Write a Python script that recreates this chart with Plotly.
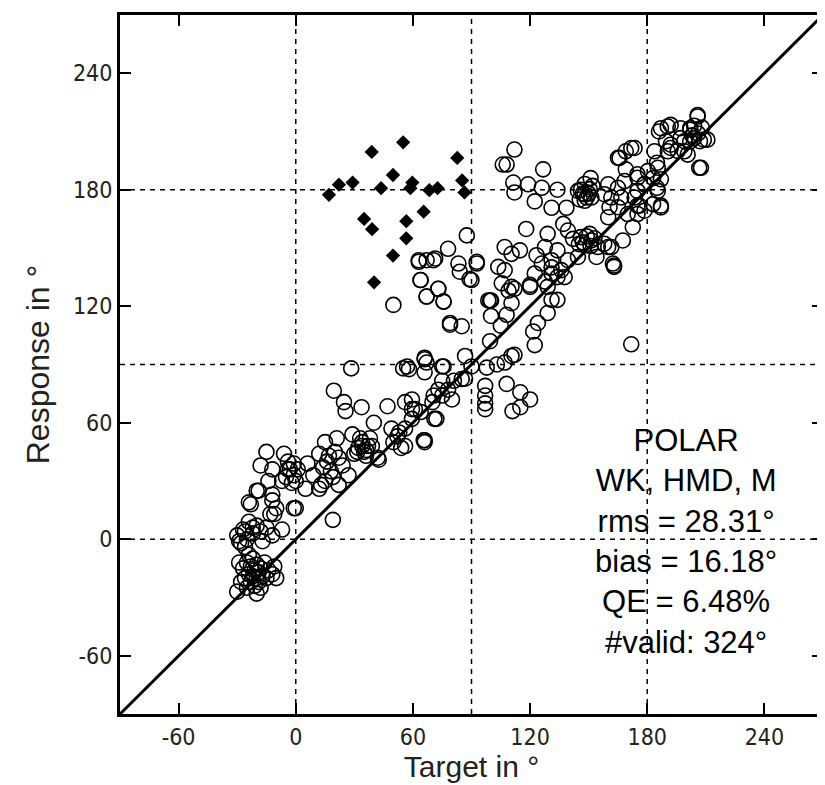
import plotly.graph_objects as go

# Open circles: localisation responses (target azimuth, response azimuth) in degrees
TARGET = [
    -30, -28, -27, -26, -25, -25, -24, -23, -23, -22, -22, -21, -21, -20, -20, -19, -19, -18, -18, -17,
    -16, -15, -14, -12, -10, -11, -24, -26, -29, -20,
    -30, -27, -25, -22, -20, -18, -15, -12, -28, -17, -24,
    -23, -7, 0, 19, -12, -11, -19,
    -15, -6, -18, -12, -4, -1, 6, 9, 12, 5, 0, -7, -14, -20, -24, -12, -10, -1, -13, -26, -29, -22,
    15, 21, 17, 24, 27, 19, 13, 29, 34, 31.5, 36, 39, 42, 40, 53, 56, 66, 49, 71, 59.5, 25.5,
    28.4, 55, 57, 66, 67, 75, 19.5, 24.7, 33.7, 47, 59.5, 64, 42.5, 70.6, 75, 78, 50, 64, 67, 73, 75.7, 79, 63, 70.6,
    32, 34, 35, 37, 30, 38, 33, 36,
    -5, -3, -1, -4, 1, -2,
    14, 16, 18, 20, 22, 12, 15, 22,
    50, 52, 54,
    86.7, 90, 85, 97.8, 107, 110.5, 112, 103, 97, 108, 97, 97, 97, 115, 120, 115, 75.7, 66, 66, 73, 80, 72, 65.5, 58, 59.5, 81, 86.7,
    100, 100, 99.5, 105, 108, 109, 110.5, 121.6, 122.4, 124, 129, 131, 134, 79, 85, 171.8, 92.7, 89, 112, 120, 127.6, 134, 137.7, 163, 131, 107,
    56, 61, 70, 75, 66, 56,
    112, 108, 126.7, 151, 111.4, 112, 119, 126, 134, 122.4, 131, 138.6, 144.5, 148, 150.5, 148, 145.4, 151.4, 158, 160.7,
    160, 165, 166.7, 165, 169, 173.5, 169, 175, 178.6, 175, 183, 185, 187, 176, 173.5, 185, 190.5, 187, 192, 197,
    202, 205.8, 206.6, 202, 199, 192,
    118, 114.8, 123.3, 129, 127.6, 137, 139.4, 142, 146, 148, 151.4, 154.7, 150.5, 158, 161.6, 163, 154, 144.5, 134, 131,
    126, 122.4, 131, 136, 139.4, 110.5, 107, 103.7, 105.5, 110.5, 120, 129, 98.6, 160, 167.5, 172.6, 175, 170, 178.6, 183,
    205.8, 190.5, 186, 197, 202, 204, 209, 210.8, 199, 195.6, 200.7, 207.5, 192, 189.6, 171.8, 165.8, 183.7, 185.4, 180.3, 175,
    178.6, 187, 185.4, 187, 175, 168.4, 165, 161.6, 160, 162.4,
    87.6, 78, 63, 67, 71.4, 83.3, 92.7, 84, 90, 63.8, 73, 67, 75.7, 99.5, 106,
    147, 149, 146, 150, 152, 148,
    147, 149, 151, 153, 145,
    203, 206, 208, 204, 207,
    111,
]
RESPONSE = [
    -27, -22, -15, -20, -25, -12, -18, -22, -14, -19, -10, -24, -16, -20, -13, -17, -22, -15, -25, -19,
    -12, -20, -16, -18, -20, -14, -8, -4, -12, -28,
    2, 5, 0, 3, 7, 4, 6, 2, -2, -1, 9,
    18, 5, 16, 10, 20, 13, 25,
    45, 44, 38, 36, 36, 39, 39, 33, 26, 26, 30, 30, 30, 25, 19, 23, 16, 16, 13, 4, -1, 6,
    50, 52, 43, 38, 33, 32, 28, 54, 48, 45, 43, 48, 42, 60, 55, 48, 51, 57, 62, 62, 66,
    88, 88, 89, 93.5, 91, 89, 76.5, 70.6, 68, 68.5, 67, 65.5, 41, 74, 81.6, 77, 120.7, 133.5, 125, 129, 122.4, 111.4, 142.9, 143.7,
    47, 50, 45, 48, 44, 52, 52, 46,
    32, 36, 33, 40, 36, 29,
    37, 40, 35, 45, 42, 44, 30, 28,
    50, 53, 47,
    94.4, 89, 82.5, 88.4, 91, 94.4, 95, 90, 79, 80, 74, 70, 67, 75.7, 72, 68, 89, 92.7, 86, 77, 72, 62, 51, 87.6, 72, 81.6, 82.7,
    123, 115, 102, 110, 115.6, 128, 121.6, 107, 100, 111.4, 116.5, 123.3, 123.3, 110.5, 109.7, 100.4, 142, 134, 129, 131, 132.7, 135, 135, 141, 140, 138.6,
    70.6, 67, 70.6, 74, 50, 57,
    200.7, 193, 190.5, 186, 183.7, 178.6, 182.8, 181, 180, 174, 170.7, 170.7, 179.4, 177.7, 180.3, 174.3, 175, 176, 177.7, 171,
    165.8, 171, 176, 196.4, 199.8, 201.5, 190.5, 188, 183, 179.4, 186, 181, 171.8, 171.8, 176, 193.9, 199.8, 211.7, 213.4, 206.6,
    211.7, 218.5, 191.3, 204.9, 199.8, 203.2,
    159.8, 148.8, 146.3, 157.3, 150.5, 162.4, 159, 154.7, 155.6, 151.4, 153.9, 150.5, 157.3, 152.2, 150.5, 140.3, 145.4, 145.4, 148.8, 143.7,
    142, 136.9, 136.9, 138.6, 143.7, 147, 150.5, 140.3, 131.8, 130, 130, 130, 123, 182.8, 153.9, 160.7, 167.5, 167.5, 169.2, 172.6,
    217.7, 212.6, 210, 211.7, 210.9, 206.6, 205.8, 205.8, 205, 200, 198.1, 191.3, 201.5, 205, 201.5, 196.4, 199.8, 191.3, 189.6, 186.2,
    182.8, 185.4, 179.4, 170.9, 171.8, 184.5, 181, 176, 150.5, 142,
    156.5, 149.6, 143.7, 143.7, 144.6, 142, 142.9, 137.8, 133.5, 133.5, 129, 125, 122.4, 123, 193,
    178, 176, 180, 178, 182, 183,
    153, 156, 151, 155, 152,
    208, 209, 212, 213, 205,
    66,
]

# Filled diamonds: quadrant errors (QE)
TARGET_QE = [55, 38.9, 82.7, 49.8, 29.1, 22.1, 17, 43.7, 59.7, 58.7, 68.4, 72.6, 85.2, 86.4, 65.5, 35, 39.1, 56.6, 56.6, 49.8, 40.1]
RESPONSE_QE = [204.4, 199.5, 196.4, 187.6, 183.7, 182.6, 177.4, 180.8, 183.7, 180.8, 179.8, 180.8, 184.8, 178.6, 168.7, 165, 159.7, 163.8, 155, 146.1, 132.3]

AXIS_RANGE = [-90, 270]
TICKS = [-60, 0, 60, 120, 180, 240]
GUIDES = [0, 90, 180]
IDENTITY = [-90, 270]

STATS_TEXT = ["POLAR", "WK, HMD, M", "rms = 28.31°", "bias = 16.18°", "QE = 6.48%", "#valid: 324°"]

FONT = "Liberation Sans, Arial, sans-serif"
NARROW = "Liberation Sans Narrow, Arial Narrow, DejaVu Sans Condensed, sans-serif"

fig = go.Figure()

# dashed guide lines
for g in GUIDES:
    fig.add_shape(type="line", xref="x", yref="y", x0=g, x1=g, y0=AXIS_RANGE[0], y1=AXIS_RANGE[1],
                  line=dict(color="black", width=1.5, dash="5px,5px"), layer="below")
    fig.add_shape(type="line", xref="x", yref="y", y0=g, y1=g, x0=AXIS_RANGE[0], x1=AXIS_RANGE[1],
                  line=dict(color="black", width=1.5, dash="5px,5px"), layer="below")

fig.add_trace(go.Scatter(
    x=TARGET, y=RESPONSE, mode="markers",
    marker=dict(symbol="circle-open", size=15, color="black", line=dict(width=1.6, color="black")),
    showlegend=False, hoverinfo="x+y",
))
fig.add_trace(go.Scatter(
    x=TARGET_QE, y=RESPONSE_QE, mode="markers",
    marker=dict(symbol="diamond", size=11, color="black"),
    showlegend=False,
))
fig.add_trace(go.Scatter(
    x=IDENTITY, y=IDENTITY, mode="lines",
    line=dict(color="black", width=3), showlegend=False, hoverinfo="skip",
))

fig.add_annotation(
    x=200, y=-1, xref="x", yref="y", text="<br>".join(STATS_TEXT), showarrow=False,
    font=dict(family=FONT, size=31, color="black"), align="center", xanchor="center", yanchor="middle",
)

axis_common = dict(
    range=AXIS_RANGE, tickvals=TICKS, ticktext=[str(t) for t in TICKS],
    showgrid=False, zeroline=False, showline=True, linecolor="black", linewidth=3,
    mirror="ticks", ticks="inside", ticklen=11, tickwidth=2, tickcolor="black",
    tickfont=dict(family=NARROW, size=23, color="#222"),
)
fig.update_xaxes(**axis_common, title=dict(text="Target in °", font=dict(family=FONT, size=30, color="#222"), standoff=2))
fig.update_yaxes(**axis_common, title=dict(text="Response in °", font=dict(family=FONT, size=32, color="#222"), standoff=14))

fig.update_layout(
    width=825, height=785,
    margin=dict(l=112, r=10, t=4, b=79),
    plot_bgcolor="white", paper_bgcolor="white",
    font=dict(family=FONT),
)

fig.write_html("out.html")
